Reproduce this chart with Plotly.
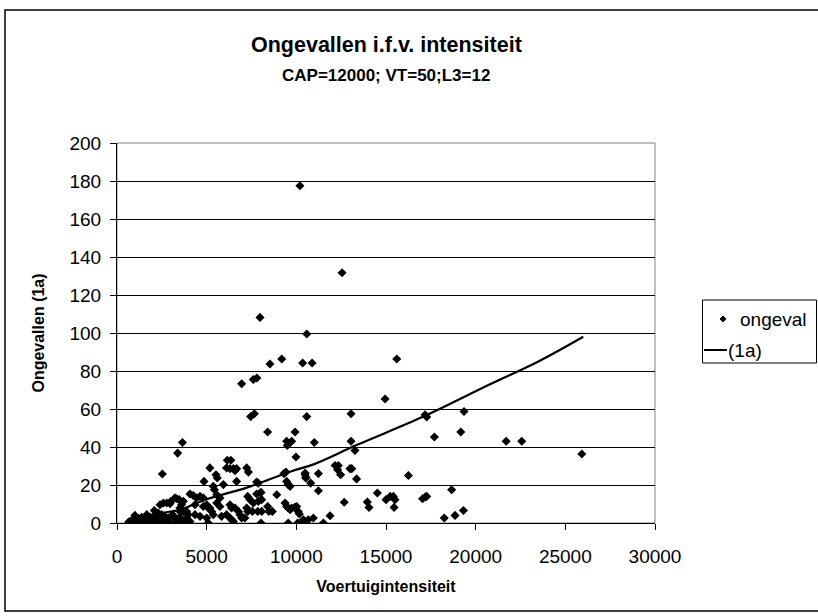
import plotly.graph_objects as go

# ---- data: scatter of accidents vs vehicle intensity ----
ongeval_x = [
    650, 750, 820, 900, 1000, 1050, 1150, 1190, 1300, 1380, 1450, 1560, 1660, 1750, 1850, 1930,
    2050, 2120, 2200, 2300, 2400, 2490, 2600, 2680, 2780, 2860, 3000, 3100, 3230, 3350, 3420, 3500, 3600,
    2080, 2590, 2770, 3010, 3230, 3600, 3510, 2530, 3380, 3650, 3330, 3470, 2400, 2960,
    5180, 6110, 6300, 6490, 6580, 6670, 5520, 5590, 7230, 7330, 4850, 5370, 5430, 5930, 6670,
    4070, 4250, 4440, 3700, 4630, 4810, 5560, 5740, 4350, 4810, 5000, 5090, 3510, 3700, 3880, 3970,
    4350, 4630, 5180, 5280, 5370, 5000, 5090, 6300, 6390, 6580, 6110, 6300, 6390, 6490, 6770, 6860,
    6950, 7230, 5740, 3880, 4070, 3700, 5560, 5830, 6150, 6350,
    7790, 7880, 10490, 10520, 9460, 9550, 7290, 7420, 7600, 7790, 7980, 8910, 7880, 8070, 8400,
    9370, 9460, 9550, 9650, 7290, 7550, 7850, 8470, 10020, 10100, 7130, 8030, 10070, 10390, 10670,
    10950, 9550, 8030, 8660, 9930, 9310, 9420, 8070,
    10580, 10350, 10880, 15600, 14950, 13050, 10580, 17270, 17180, 19350, 9930, 19170, 9740, 11000,
    13050, 13270, 17700, 9980, 12160, 12340, 12300, 12470, 12990, 13090, 13360, 10490, 10540, 11230,
    10800, 16250, 11230, 9650, 18660, 14520, 12670, 13960, 14050, 15000, 15230, 15410, 15500, 15450,
    17040, 17180, 17270, 19320, 18850, 18250, 10170, 9740, 11880, 11510, 10490,
    10200, 12550, 7975, 9185, 8530, 6950, 7600, 7800, 7455, 7660, 8400, 9460, 9500, 21700, 22570, 25920,
]
ongeval_y = [
    0.5, 1, 0, 2, 4, 1.5, 0, 2.5, 1, 3, 0.5, 2, 4.4, 1, 3, 0.5,
    2, 4, 1, 5.3, 2, 4.4, 0.5, 3.5, 1.5, 2.6, 0, 4.4, 2.6, 0.5, 1, 3, 0,
    6.6, 10.5, 10.5, 11.4, 13.2, 9.6, 6.1, 25.8, 36.8, 42.4, 12.8, 12.3, 9.6, 10.2,
    29, 29, 28.6, 28.6, 27.5, 28.6, 25.4, 23.7, 29, 26.8, 21.9, 19.3, 17.5, 20.2, 21.9,
    15.3, 14.5, 13.2, 11.4, 14, 13.2, 14.9, 13.2, 9.6, 8.7, 9.6, 7.9, 7.9, 6.1, 6.1, 4.4,
    4.4, 3.5, 7.9, 6.1, 4.4, 2.6, 0, 9.6, 7.9, 7.9, 4.4, 2.6, 1.7, 0.8, 6.1, 4.4,
    2.6, 7.9, 8.7, 2.6, 0.8, 0, 10.5, 3.5, 33, 33,
    21.6, 21, 25.4, 23.7, 21.9, 20.2, 14, 12.3, 10.5, 15.3, 15.8, 14.9, 11.4, 12.3, 8.7,
    10.5, 8.7, 7.9, 7, 6.1, 6.1, 6.1, 6.1, 8.7, 6.1, 2.6, 0, 0, 1.7, 1.7,
    2.6, 0, 16.1, 6.1, 8.4, 26, 26.8, 6.1,
    99.5, 84.2, 84.2, 86.3, 65.3, 57.5, 56, 55.8, 57, 58.7, 47.9, 47.9, 43, 42.4,
    43, 38.2, 45.3, 34.7, 30.3, 30.3, 28, 25.4, 28.6, 28.6, 23.2, 26.3, 24, 26,
    21, 25, 17, 19.3, 17.5, 15.8, 10.9, 11, 8.2, 12.3, 14, 14, 12.3, 8.2,
    12.8, 13.7, 14, 6.6, 4, 2.6, 4.7, 7.9, 3.8, 0, 0.5,
    177.5, 131.7, 108.2, 86.3, 83.7, 73.3, 75.5, 76.3, 56, 57.5, 47.9, 43, 40.8, 43, 43, 36.3,
]

# ---- data: fitted curve (1a) ----
fit_x = [700, 2000, 3500, 5000, 7200, 9650, 11000, 13360, 17090, 20800, 23500, 26000]
fit_y = [1.0, 4.5, 7.0, 12.5, 18.5, 27.0, 31.0, 41.0, 56.0, 73.0, 85.0, 98.0]

# legend labels as they appear in the picture
series_names = ["ongeval", "(1a)"]
title_text = "<b>Ongevallen i.f.v. intensiteit</b>"
subtitle_text = "<b>CAP=12000; VT=50;L3=12</b>"
x_title = "<b>Voertuigintensiteit</b>"
y_title = "<b>Ongevallen (1a)</b>"

FONT = "Arial, Liberation Sans, sans-serif"
TICK_SIZE = 19

fig = go.Figure()
fig.add_trace(go.Scatter(
    x=ongeval_x, y=ongeval_y, mode="markers", name=series_names[0],
    marker=dict(symbol="diamond", size=7, color="black"), showlegend=False,
))
fig.add_trace(go.Scatter(
    x=fit_x, y=fit_y, mode="lines", name=series_names[1],
    line=dict(color="black", width=2.2, shape="spline"), showlegend=False,
))

W, H = 818, 616
L, R, T, B = 117, 655, 143, 523
pw, ph = R - L, B - T

def px(p):
    return (p - L) / pw

def py(p):
    return (B - p) / ph

# manual legend (placed like the original, at the right edge)
leg_y1, leg_y2 = 319, 350
mk_x, mk_r = 723, 3
diamond = (f"M {px(mk_x)},{py(leg_y1 - mk_r)} L {px(mk_x + mk_r)},{py(leg_y1)} "
           f"L {px(mk_x)},{py(leg_y1 + mk_r)} L {px(mk_x - mk_r)},{py(leg_y1)} Z")

fig.update_layout(
    width=W, height=H,
    margin=dict(l=L, r=W - R, t=T, b=H - B),
    paper_bgcolor="white", plot_bgcolor="white",
    font=dict(family=FONT, size=TICK_SIZE, color="black"),
    showlegend=False,
    xaxis=dict(
        range=[0, 30000], dtick=5000, tick0=0, tickformat="d",
        showgrid=False, zeroline=False,
        showline=True, linecolor="black", linewidth=1,
        ticks="outside", ticklen=6, tickcolor="black",
        ticklabelstandoff=10,
        tickfont=dict(size=TICK_SIZE, family=FONT),
        title=dict(text=x_title, font=dict(size=16, family=FONT), standoff=15),
    ),
    yaxis=dict(
        range=[0, 200], dtick=20, tick0=0,
        showgrid=True, gridcolor="black", gridwidth=1,
        zeroline=False,
        showline=True, linecolor="black", linewidth=1,
        ticks="outside", ticklen=6, tickcolor="black",
        ticklabelstandoff=5,
        tickfont=dict(size=TICK_SIZE, family=FONT),
        title=dict(text=y_title, font=dict(size=16, family=FONT), standoff=20),
    ),
    shapes=[
        dict(type="rect", xref="paper", yref="paper",
             x0=px(5), x1=px(840), y0=py(611), y1=py(10),
             line=dict(color="black", width=1.5), fillcolor="rgba(0,0,0,0)", layer="below"),
        dict(type="rect", xref="paper", yref="paper", x0=0, x1=1, y0=0, y1=1,
             line=dict(color="#808080", width=1), fillcolor="rgba(0,0,0,0)", layer="below"),
        # legend box
        dict(type="rect", xref="paper", yref="paper",
             x0=px(702.5), x1=px(816.5), y0=py(363), y1=py(300),
             line=dict(color="black", width=1), fillcolor="white", layer="above"),
        dict(type="path", xref="paper", yref="paper", path=diamond,
             line=dict(color="black", width=1), fillcolor="black", layer="above"),
        dict(type="line", xref="paper", yref="paper",
             x0=px(704), x1=px(727), y0=py(leg_y2), y1=py(leg_y2),
             line=dict(color="black", width=2), layer="above"),
    ],
    annotations=[
        dict(text=title_text, xref="paper", yref="paper",
             x=0.5, y=py(45), xanchor="center", yanchor="middle",
             showarrow=False, font=dict(size=21.5, family=FONT)),
        dict(text=subtitle_text, xref="paper", yref="paper",
             x=0.5, y=py(75), xanchor="center", yanchor="middle",
             showarrow=False, font=dict(size=17, family=FONT)),
        dict(text=series_names[0], xref="paper", yref="paper",
             x=px(738), y=py(leg_y1), xanchor="left", yanchor="middle",
             showarrow=False, font=dict(size=TICK_SIZE, family=FONT)),
        dict(text=series_names[1], xref="paper", yref="paper",
             x=px(726), y=py(leg_y2), xanchor="left", yanchor="middle",
             showarrow=False, font=dict(size=TICK_SIZE, family=FONT)),
    ],
)

fig.write_html("out.html", config={"displayModeBar": False},
               post_script="document.body.style.margin='0';")
